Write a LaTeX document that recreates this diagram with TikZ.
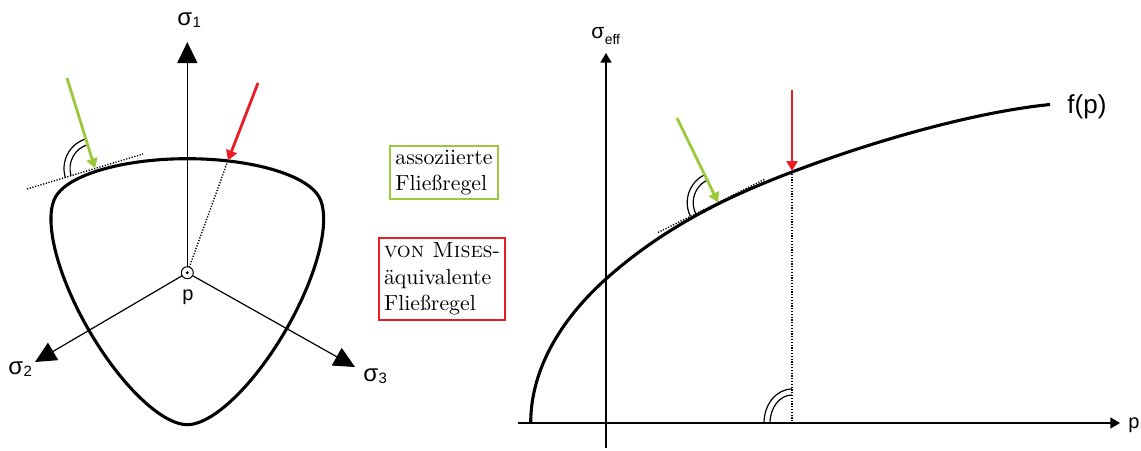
\documentclass[tikz,border=0pt]{standalone}
\usepackage{fontspec}
\newfontfamily\labelfont{Liberation Sans}
\usetikzlibrary{arrows.meta}
\definecolor{fgreen}{RGB}{154,202,60}
\definecolor{fred}{RGB}{236,28,36}
% #1 size of sigma, #2 size of index, #3 drop of index, #4 index
\newcommand\siglab[4]{{\labelfont\fontsize{#1}{#1}\selectfont σ\kern0.2pt\raisebox{-#3}{\fontsize{#2}{#2}\selectfont #4}}}
\begin{document}
\begin{tikzpicture}[x=0.5pt,y=-0.5pt,
  declare function={
    wwc(\a)=cos(acos(cos(3*(\a-30)))/3);
    ww(\a)=100*(3.072832*wwc(\a)+1.1552*sqrt(4.0432*wwc(\a)*wwc(\a)-0.4332))/(4.0432*wwc(\a)*wwc(\a)+0.5776);
  },
  surface/.style={line width=1.55pt, line join=round},
  axis/.style={line width=0.6pt},
  bigtip/.style={-{Triangle[length=10.5pt,width=10pt]}},
  smalltip/.style={-{Triangle[length=4.8pt,width=5.5pt]}},
  flowarrow/.style={line width=1.4pt, -{Triangle[length=5pt,width=5.5pt]}},
  dotline/.style={line width=0.7pt, dash pattern=on 0.6pt off 0.8pt},
  anglearc/.style={line width=0.6pt},
  rulebox/.style={draw, line width=1.4pt, align=left, inner sep=0pt,
    font=\fontsize{10.9}{13.2}\selectfont},
  lab/.style={inner sep=0pt, anchor=base west}]
\useasboundingbox (0,0) rectangle (1141,450);

% ---------------- left: deviatoric plane ----------------
\coordinate (P) at (187.3,272.7);
\coordinate (S1) at (187.3,42);
\coordinate (S2) at (35,362);
\coordinate (S3) at (355,367);
\draw[axis,bigtip] (P) -- (S1);
\draw[axis,bigtip] (P) -- (S2);
\draw[axis,bigtip] (P) -- (S3);

\draw[surface] plot[domain=0:360, samples=241]
  ({187.3+ww(\x)*cos(\x)}, {272.7+ww(\x)*sin(\x)}) -- cycle;

% associated flow rule (left)
\coordinate (TL1) at (27,189);
\coordinate (TL2) at (143,154);
\coordinate (GLs) at (67,78);
\coordinate (GLt) at (95,168.5);
\draw[dotline] (TL1) -- (TL2);
\draw[anglearc] (GLt) ++(163.2:31) arc[start angle=163.2, end angle=252.7, radius=31];
\draw[anglearc] (GLt) ++(163.2:25) arc[start angle=163.2, end angle=252.7, radius=25];
\draw[flowarrow, fgreen] (GLs) -- (GLt);

% von Mises equivalent (left)
\coordinate (RLs) at (258,83);
\coordinate (RLt) at (228,160.5);
\draw[dotline] (P) -- (RLt);
\draw[flowarrow, fred] (RLs) -- (RLt);

\draw[line width=0.5pt, fill=white] (P) circle[radius=6];
\fill (P) circle[radius=1.6];

\node[lab] (L1) at (177,25) {\siglab{12}{7.5}{1.2pt}{1}};
\node[lab] (L2) at (8,374) {\siglab{12}{7.5}{1.2pt}{2}};
\node[lab] (L3) at (363,381) {\siglab{12}{7.5}{1.2pt}{3}};
\node[inner sep=0pt, anchor=base] (Lp) at (188,300) {\labelfont\fontsize{10}{10}\selectfont p};

% ---------------- legend boxes ----------------
\node[rulebox, draw=fgreen, minimum width=54pt, minimum height=26.5pt] (B1) at (444,172.5)
  {assoziierte\\Fließregel};
\node[rulebox, draw=fred, minimum width=63pt, minimum height=41pt] (B2) at (442,279)
  {\textsc{von Mises}-\\äquivalente\\Fließregel};

% ---------------- right: meridian plane ----------------
\coordinate (PA0) at (518,423);
\coordinate (PA1) at (1120,423);
\coordinate (SA0) at (606,448);
\coordinate (SA1) at (606,53);
\draw[axis,smalltip] (PA0) -- (PA1);
\draw[axis,smalltip] (SA0) -- (SA1);

\coordinate (F0) at (530.7,423);
\coordinate (F1) at (607,278);
\coordinate (F2) at (792,172);
\coordinate (F3) at (1050,104.5);
\draw[surface] (F0) .. controls (530.7,360) and (572,309) .. (F1)
  .. controls (667,224.8) and (732,194.8) .. (F2)
  .. controls (882,137.8) and (980,111.5) .. (F3);

% associated flow rule (right)
\coordinate (TR1) at (658,232.5);
\coordinate (TR2) at (765,179.1);
\coordinate (GRs) at (677,118);
\coordinate (GRt) at (718.2,202.6);
\draw[dotline] (TR1) -- (TR2);
\draw[anglearc] (GRt) ++(153.5:31) arc[start angle=153.5, end angle=244.2, radius=31];
\draw[anglearc] (GRt) ++(153.5:25) arc[start angle=153.5, end angle=244.2, radius=25];
\draw[flowarrow, fgreen] (GRs) -- (GRt);

% von Mises equivalent (right)
\coordinate (RRs) at (792,90);
\coordinate (RRt) at (792,171);
\coordinate (RRb) at (792,423);
\draw[dotline] (RRt) -- (RRb);
\draw[flowarrow, fred] (RRs) -- (RRt);
\draw[anglearc] (RRb) ++(-28,0) arc[start angle=180, end angle=270, x radius=28, y radius=34];
\draw[anglearc] (RRb) ++(-22,0) arc[start angle=180, end angle=270, x radius=22, y radius=28];

\node[lab] (Lf) at (1067,113) {\labelfont\fontsize{13}{13}\selectfont f(p)};
\node[lab] (Lpp) at (1128,428) {\labelfont\fontsize{10}{10}\selectfont p};
\node[lab] (Lse) at (591,38) {\siglab{10.5}{7}{3pt}{eff}};
\end{tikzpicture}
\end{document}
